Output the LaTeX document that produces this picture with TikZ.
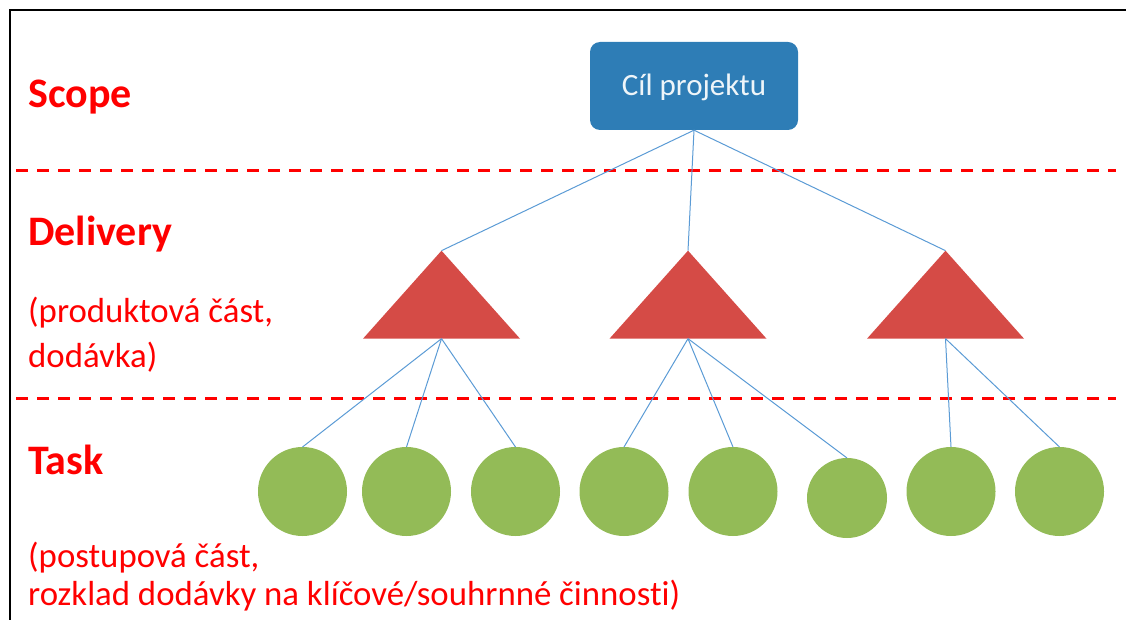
\documentclass[tikz,border=0pt]{standalone}
\usepackage{fontspec}
\setmainfont{Carlito}[Ligatures=NoCommon]
\usetikzlibrary{shapes.geometric}
\definecolor{boxblue}{RGB}{46,125,182}
\definecolor{trired}{RGB}{213,75,70}
\definecolor{leafgreen}{RGB}{147,187,87}
\definecolor{linkblue}{RGB}{91,155,213}
\definecolor{labelred}{RGB}{255,0,0}
\begin{document}
\begin{tikzpicture}[x=1pt,y=-1pt,
  title/.style={anchor=base west, text=labelred, inner sep=0pt,
    font=\fontsize{42}{48}\selectfont\bfseries},
  note/.style={anchor=base west, text=labelred, inner sep=0pt,
    font=\fontsize{34.8}{40}\selectfont},
  goalbox/.style={rectangle, rounded corners=10pt, fill=boxblue,
    minimum width=208pt, minimum height=88pt, inner sep=0pt,
    text height=20pt, text depth=0pt,
    text=white!92!boxblue, font=\fontsize{31}{36}\selectfont},
  deliv/.style={isosceles triangle, isosceles triangle stretches,
    shape border rotate=90, minimum width=157pt, minimum height=88pt,
    inner sep=0pt, outer sep=0pt, fill=trired},
  leaf/.style={circle, fill=leafgreen, inner sep=0pt, outer sep=0pt,
    minimum size=#1},
  leaf/.default=89pt,
  link/.style={draw=linkblue, line width=1pt},
  levelsep/.style={draw=labelred, line width=3pt, dash pattern=on 12pt off 9pt}]
\useasboundingbox (0,0) rectangle (1126,620);

% frame
\draw[black, line width=2pt] (9.5,620) -- (9.5,10) -- (1126,10);

% level separators
\coordinate (sepA0) at (16,171);
\coordinate (sepA1) at (1116,171);
\coordinate (sepB0) at (16,398);
\coordinate (sepB1) at (1116,398);
\draw[levelsep] (sepA0) -- (sepA1);
\draw[levelsep] (sepB0) -- (sepB1);

% level labels
\node[title] (scope) at (28,108) {Scope};
\node[title] (delivery) at (28,245) {Delivery};
\node[note] (delivnote1) at (28,322) {(produktová část,};
\node[note] (delivnote2) at (28,367) {dodávka)};
\node[title] (task) at (28,474) {Task};
\node[note] (tasknote1) at (28,567) {(postupová část,};
\node[note] (tasknote2) at (28,605) {rozklad dodávky na klíčové/souhrnné činnosti)};

% goal, deliveries, tasks
\node[goalbox] (goal) at (694,86) {Cíl projektu};

\node[deliv] (d1) at (441.5,303.5) {};
\node[deliv] (d2) at (688,303.5) {};
\node[deliv] (d3) at (945.5,303.5) {};

\node[leaf] (t1) at (302.5,491.5) {};
\node[leaf] (t2) at (406.5,491.5) {};
\node[leaf] (t3) at (515.5,491.5) {};
\node[leaf] (t4) at (624,491.5) {};
\node[leaf] (t5) at (733,491.5) {};
\node[leaf=80pt] (t6) at (847,498) {};
\node[leaf] (t7) at (951,491.5) {};
\node[leaf] (t8) at (1059.5,491.5) {};

% connectors
\foreach \d in {d1,d2,d3}
  \draw[link] (goal.south) -- (\d.apex);
\foreach \t in {t1,t2,t3}
  \draw[link] (d1.south) -- (\t.north);
\foreach \t in {t4,t5,t6}
  \draw[link] (d2.south) -- (\t.north);
\foreach \t in {t7,t8}
  \draw[link] (d3.south) -- (\t.north);
\end{tikzpicture}
\end{document}
